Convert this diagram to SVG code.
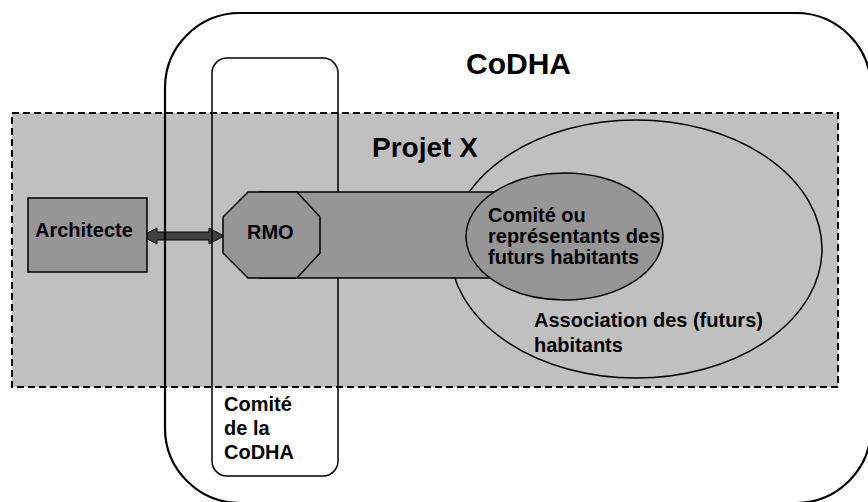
<svg xmlns="http://www.w3.org/2000/svg" width="868" height="502" viewBox="0 0 868 502">
<style>
text{font-family:"Liberation Sans",Arial,sans-serif;font-weight:bold;fill:#000}
.lbl{font-size:20px}
.big{font-size:28px}
.dark{fill:#969696;stroke:#000;stroke-width:1.5}
.frame{fill:none;stroke:#000}
</style>
<rect x="0" y="0" width="868" height="502" fill="#fff"/>
<g id="projet-x">
<rect x="12" y="113" width="826" height="274" fill="#c0c0c0" stroke="#000" stroke-width="2" stroke-dasharray="7 4"/>
<text class="big" x="372" y="157">Projet X</text>
</g>
<g id="connectors">
<polygon points="142,236 157,228 157,232 209,232 209,228 224,236 209,244 209,240 157,240 157,244" fill="#404040" stroke="#000" stroke-width="1"/>
</g>
<g id="codha">
<rect class="frame" x="165" y="13" width="706" height="490" rx="75" stroke-width="2.2"/>
<text x="466" y="74" style="font-size:30px">CoDHA</text>
</g>
<g id="comite-codha">
<rect class="frame" x="212" y="58" width="126" height="418" rx="15" stroke-width="1.5"/>
<text class="lbl" x="224" y="411">Comité</text>
<text class="lbl" x="224" y="435">de la</text>
<text class="lbl" x="224" y="459">CoDHA</text>
</g>
<g id="association">
<ellipse cx="636" cy="249" rx="186" ry="129" fill="none" stroke="#000" stroke-width="1.5"/>
<text class="lbl" x="534" y="327">Association des (futurs)</text>
<text class="lbl" x="534" y="352">habitants</text>
</g>
<g id="lien">
<rect class="dark" x="260" y="192" width="300" height="86"/>
</g>
<g id="rmo">
<polygon class="dark" points="248,192 297,192 320,217 320,253 297,278 248,278 223,253 223,217"/>
<text class="lbl" x="247" y="239">RMO</text>
</g>
<g id="comite-habitants">
<ellipse class="dark" cx="564.5" cy="236.5" rx="98.5" ry="63.5"/>
<text class="lbl" x="488" y="222">Comité ou</text>
<text class="lbl" x="488" y="243">représentants des</text>
<text class="lbl" x="488" y="264">futurs habitants</text>
</g>
<g id="architecte">
<rect class="dark" x="28" y="198" width="119" height="74"/>
<text class="lbl" x="35" y="237">Architecte</text>
</g>
</svg>
